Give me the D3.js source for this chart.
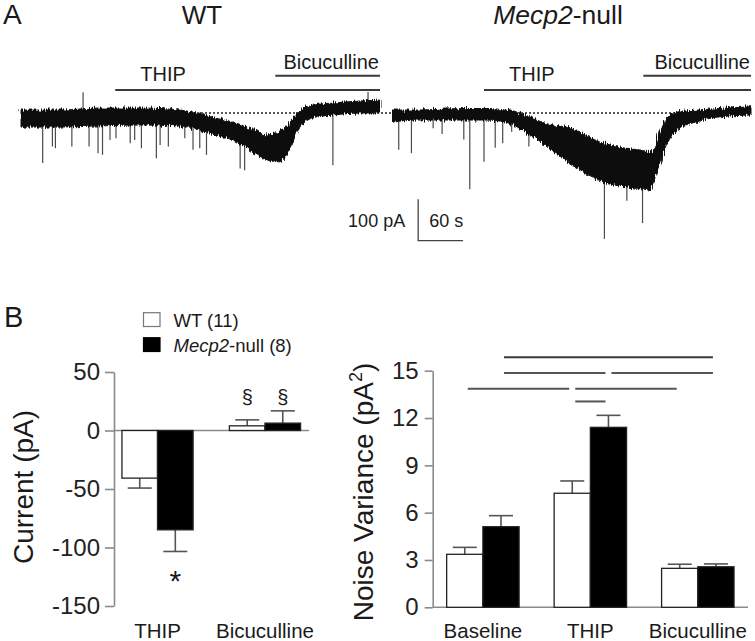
<!DOCTYPE html>
<html><head><meta charset="utf-8">
<script src="https://cdn.jsdelivr.net/npm/d3@7"></script>
<style>
body{margin:0;background:#fff}
svg{display:block;font-family:"Liberation Sans",Arial,Helvetica,sans-serif}
</style>
</head><body>
<svg id="chart" width="755" height="641"></svg>
<script>
// ---------------- Panel A: current traces (time in s, current in pA) ----------------
const wtEnvT  = [0, 52, 106, 159, 213, 239, 259, 283, 306, 329, 346, 360, 373, 390, 417, 453, 480];
const wtEnvHi = [7, 7, 12, 12, 7, -2, -12, -22, -36, -53, -46, -22, 7, 19, 24, 29, 31];
const wtEnvLo = [-34, -34, -31, -29, -31, -41, -53, -65, -89, -114, -118, -85, -36, -12, -5, 0, 0];

const koEnvT  = [0, 35, 78, 124, 151, 178, 205, 238, 282, 328, 345, 354, 362, 372, 385, 408, 439, 480];
const koEnvHi = [7, 7, 10, 11, 7, -5, -25, -37, -73, -89, -93, -69, -29, -5, 3, 7, 11, 15];
const koEnvLo = [-22, -17, -17, -17, -21, -45, -77, -121, -166, -182, -186, -142, -101, -60, -37, -21, -9, -5];

const wtSpikeT = [29, 42, 46, 68, 91, 103, 109, 119, 127, 146, 152, 161, 181, 186, 197, 219, 230, 239, 248, 293, 299, 417, 83, 464];
const wtSpikeA = [-121, -81, -85, -81, -81, -97, -101, -65, -61, -73, -65, -85, -109, -77, -81, -61, -89, -85, -101, -134, -138, -126, 50, 51];
const koSpikeT = [9, 26, 55, 67, 96, 104, 123, 138, 148, 160, 183, 284, 314, 335];
const koSpikeA = [-89, -97, -37, -51, -64, -184, -118, -84, -73, -45, -81, -304, -212, -266];

const drugNames = ["THIP", "Bicuculline"];
const wtDrugStart = [126, 340];
const koDrugStart = [123, 336];
const recordEnd = 480;

// ---------------- Panel B: data ----------------
const currentConds = ["THIP", "Bicuculline"];
const currentWT = [-40.7, 4.0];
const currentWTErr = [8.5, 5.1];
const currentKO = [-84.9, 6.3];
const currentKOErr = [18.5, 10.5];
const currentTicks = [50, 0, -50, -100, -150];

const varConds = ["Baseline", "THIP", "Bicuculline"];
const varWT = [3.36, 7.23, 2.47];
const varWTErr = [0.44, 0.78, 0.26];
const varKO = [5.11, 11.41, 2.57];
const varKOErr = [0.70, 0.76, 0.18];
const varTicks = [0, 3, 6, 9, 12, 15];

const seriesNames = ["WT", "KO"];
// significance lines (noise variance), from condition/series to condition/series at level
const sigFromCond = ["Baseline", "Baseline", "THIP", "Baseline", "THIP", "THIP"];
const sigFromSer  = ["KO", "KO", "KO", "WT", "WT", "WT"];
const sigToCond   = ["Bicuculline", "THIP", "Bicuculline", "THIP", "Bicuculline", "THIP"];
const sigToSer    = ["KO", "KO", "KO", "WT", "WT", "KO"];
const sigLevel    = [15.85, 14.85, 14.85, 13.85, 13.85, 13.05];

// annotations (current plot)
const annText = ["*", "§", "§"];
const annCond = ["THIP", "Bicuculline", "Bicuculline"];
const annSer  = ["KO", "WT", "KO"];
const annY    = [-137.5, 23, 23];

// ======================================================
const svg = d3.select("#chart");
const ink = "#1a1a1a";

// roughening filter for the noisy current band
const defs = svg.append("defs");
const flt = defs.append("filter").attr("id", "rough").attr("x", "-2%").attr("y", "-30%").attr("width", "104%").attr("height", "160%");
flt.append("feTurbulence").attr("type", "fractalNoise").attr("baseFrequency", "0.9 0.05").attr("numOctaves", 2).attr("seed", 3).attr("result", "n");
flt.append("feDisplacementMap").attr("in", "SourceGraphic").attr("in2", "n").attr("scale", 7)
  .attr("xChannelSelector", "A").attr("yChannelSelector", "R");

// Panel labels & titles
svg.append("text").attr("x", 3).attr("y", 24).attr("font-size", 28).attr("fill", ink).text("A");
svg.append("text").attr("x", 4).attr("y", 327).attr("font-size", 29).attr("fill", ink).text("B");
svg.append("text").attr("x", 202).attr("y", 24).attr("font-size", 26).attr("text-anchor", "middle").attr("fill", ink).text("WT");
const tKO = svg.append("text").attr("x", 558).attr("y", 24).attr("font-size", 26.5).attr("text-anchor", "middle").attr("fill", ink);
tKO.append("tspan").attr("font-style", "italic").text("Mecp2");
tKO.append("tspan").text("-null");

// Trace scales
const yTr = d3.scaleLinear().domain([0, -100]).range([113, 154.4]);
const xWT = d3.scaleLinear().domain([0, recordEnd]).range([21, 380]);
const xKO = d3.scaleLinear().domain([0, recordEnd]).range([392, 751]);

function interp(ts, vs, t) {
  const i = d3.bisectRight(ts, t);
  if (i <= 0) return vs[0];
  if (i >= ts.length) return vs[vs.length - 1];
  const f = (t - ts[i - 1]) / (ts[i] - ts[i - 1]);
  return vs[i - 1] + f * (vs[i] - vs[i - 1]);
}

// dotted baseline
svg.append("line").attr("x1", xWT(0)).attr("x2", xKO(recordEnd))
  .attr("y1", yTr(0)).attr("y2", yTr(0))
  .attr("stroke", "#222").attr("stroke-width", 1.3).attr("stroke-dasharray", "2,2");

function drawTrace(x, envT, hi, lo, spT, spA, drugStart) {
  const g = svg.append("g");
  // spikes
  spT.forEach((t, i) => {
    const mid = (interp(envT, hi, t) + interp(envT, lo, t)) / 2;
    g.append("line").attr("x1", x(t)).attr("x2", x(t))
      .attr("y1", yTr(mid)).attr("y2", yTr(spA[i]))
      .attr("stroke", "#4a4a4a").attr("stroke-width", 1.2);
  });
  const pts = envT.map((t, i) => ({t, hi: hi[i], lo: lo[i]}));
  const area = d3.area().x(d => x(d.t)).y0(d => yTr(d.lo)).y1(d => yTr(d.hi)).curve(d3.curveMonotoneX);
  g.append("path").attr("d", area(pts)).attr("fill", "#111").attr("stroke", "#111").attr("stroke-width", 1)
    .attr("filter", "url(#rough)");
  // drug application bars
  const barY = [90, 75.7];
  drugNames.forEach((name, i) => {
    g.append("line").attr("x1", x(drugStart[i])).attr("x2", x(recordEnd))
      .attr("y1", barY[i]).attr("y2", barY[i]).attr("stroke", "#3a3a3a").attr("stroke-width", 2);
    if (i === 0) {
      g.append("text").attr("x", x(drugStart[i]) + 25).attr("y", 81)
        .attr("font-size", 20).attr("fill", ink).text(name);
    } else {
      g.append("text").attr("x", x(recordEnd) - 1).attr("y", 68.5)
        .attr("font-size", 20).attr("text-anchor", "end").attr("fill", ink).text(name);
    }
  });
}
drawTrace(xWT, wtEnvT, wtEnvHi, wtEnvLo, wtSpikeT, wtSpikeA, wtDrugStart);
drawTrace(xKO, koEnvT, koEnvHi, koEnvLo, koSpikeT, koSpikeA, koDrugStart);

// scale bar (100 pA, 60 s) placed in KO panel coordinates
const sbT0 = 35, sbT1 = 95, sbTop = -208.5, sbBot = -308.5;
svg.append("path")
  .attr("d", `M${xKO(sbT0)},${yTr(sbTop)}V${yTr(sbBot)}H${xKO(sbT1)}`)
  .attr("fill", "none").attr("stroke", "#444").attr("stroke-width", 1.3);
svg.append("text").attr("x", xKO(sbT0) - 13).attr("y", 227).attr("text-anchor", "end")
  .attr("font-size", 18).attr("fill", ink).text("100 pA");
svg.append("text").attr("x", xKO(sbT0) + 11).attr("y", 227)
  .attr("font-size", 18).attr("fill", ink).text("60 s");

// ---------------- Legend ----------------
const legY = [312.7, 337.7];
const legLabels = [[["WT (11)", false]], [["Mecp2", true], ["-null (8)", false]]];
legY.forEach((y, i) => {
  svg.append("rect").attr("x", 143.5).attr("y", y).attr("width", 16.5).attr("height", 13.8)
    .attr("fill", i === 0 ? "#fff" : "#000").attr("stroke", i === 0 ? "#777" : "#000").attr("stroke-width", 1.2);
  const t = svg.append("text").attr("x", 173.5).attr("y", y + 13.8).attr("font-size", 18.5).attr("fill", ink);
  legLabels[i].forEach(([s, it]) => t.append("tspan").attr("font-style", it ? "italic" : "normal").text(s));
});

// ---------------- Bar chart helper ----------------
function barChart(opts) {
  const {conds, wt, wtErr, ko, koErr, x, y, ticks, tickFont, tickSize, tickPad, baseEnd} = opts;
  const g = svg.append("g");
  const inner = d3.scaleBand().domain(seriesNames).range([0, x.bandwidth()]);
  const ax = g.append("g").attr("transform", `translate(${x.range()[0]},0)`)
    .call(d3.axisLeft(y).tickValues(ticks).tickFormat(d => String(d))
      .tickSize(tickSize).tickSizeOuter(0).tickPadding(tickPad));
  ax.select(".domain").attr("stroke", "#8a8a8a").attr("stroke-width", 1.6);
  ax.selectAll(".tick line").attr("stroke", "#8a8a8a").attr("stroke-width", 1.6);
  ax.selectAll(".tick text").attr("font-size", tickFont).attr("fill", "#222")
    .attr("font-family", '"Liberation Sans",Arial,sans-serif');
  // baseline
  g.append("line").attr("x1", x.range()[0]).attr("x2", baseEnd)
    .attr("y1", y(0)).attr("y2", y(0)).attr("stroke", "#8a8a8a").attr("stroke-width", 1.6);
  const rows = [];
  conds.forEach((c, i) => {
    rows.push({c, s: "WT", v: wt[i], e: wtErr[i]});
    rows.push({c, s: "KO", v: ko[i], e: koErr[i]});
  });
  rows.forEach(d => {
    const bx = x(d.c) + inner(d.s), bw = inner.bandwidth(), cx = bx + bw / 2;
    const tip = d.v >= 0 ? d.v + d.e : d.v - d.e;
    g.append("line").attr("x1", cx).attr("x2", cx).attr("y1", y(d.v)).attr("y2", y(tip))
      .attr("stroke", "#555").attr("stroke-width", 1.6);
    g.append("line").attr("x1", cx - 12).attr("x2", cx + 12).attr("y1", y(tip)).attr("y2", y(tip))
      .attr("stroke", "#555").attr("stroke-width", 1.6);
    g.append("rect").attr("x", bx).attr("width", bw)
      .attr("y", Math.min(y(d.v), y(0))).attr("height", Math.abs(y(d.v) - y(0)))
      .attr("fill", d.s === "WT" ? "#fff" : "#000").attr("stroke", "#222").attr("stroke-width", 1.3);
  });
  // category labels
  conds.forEach(c => {
    g.append("text").attr("x", x(c) + x.bandwidth() / 2).attr("y", 638)
      .attr("text-anchor", "middle").attr("font-size", 20.5).attr("fill", ink).text(c);
  });
  return {g, inner};
}

// Current chart
const xCur = d3.scaleBand().domain(currentConds).range([114, 308.5]).paddingInner(0.338).paddingOuter(0.074);
const yCur = d3.scaleLinear().domain([-150, 50]).range([606, 372]);
const cur = barChart({conds: currentConds, wt: currentWT, wtErr: currentWTErr, ko: currentKO, koErr: currentKOErr,
  x: xCur, y: yCur, ticks: currentTicks, tickFont: 24, tickSize: 9, tickPad: 5, baseEnd: 309});
annText.forEach((s, i) => {
  const cx = xCur(annCond[i]) + cur.inner(annSer[i]) + cur.inner.bandwidth() / 2;
  svg.append("text").attr("x", cx).attr("y", yCur(annY[i])).attr("text-anchor", "middle")
    .attr("font-size", s === "*" ? 30 : 20).attr("fill", ink).text(s);
});
svg.append("text").attr("transform", "translate(33,487) rotate(-90)").attr("text-anchor", "middle")
  .attr("font-size", 28).attr("fill", ink).text("Current (pA)");

// Noise variance chart
const xVar = d3.scaleBand().domain(varConds).range([432.7, 748]).paddingInner(0.326).paddingOuter(0.13);
const yVar = d3.scaleLinear().domain([0, 15]).range([607.3, 370.7]);
const vc = barChart({conds: varConds, wt: varWT, wtErr: varWTErr, ko: varKO, koErr: varKOErr,
  x: xVar, y: yVar, ticks: varTicks, tickFont: 24, tickSize: 8, tickPad: 6, baseEnd: 748});
sigLevel.forEach((lv, i) => {
  const x1 = xVar(sigFromCond[i]) + vc.inner(sigFromSer[i]) + vc.inner.bandwidth() / 2 + 3;
  const x2 = xVar(sigToCond[i]) + vc.inner(sigToSer[i]) + vc.inner.bandwidth() / 2 - 3;
  svg.append("line").attr("x1", x1).attr("x2", x2).attr("y1", yVar(lv)).attr("y2", yVar(lv))
    .attr("stroke", i === 0 ? "#3a3a3a" : "#555").attr("stroke-width", 2);
});
const yl = svg.append("text").attr("transform", "translate(373,492) rotate(-90)").attr("text-anchor", "middle")
  .attr("font-size", 28).attr("fill", ink);
yl.append("tspan").text("Noise Variance (pA");
yl.append("tspan").attr("font-size", 18).attr("dy", -11).text("2");
yl.append("tspan").attr("dy", 11).text(")");
</script>
</body></html>
